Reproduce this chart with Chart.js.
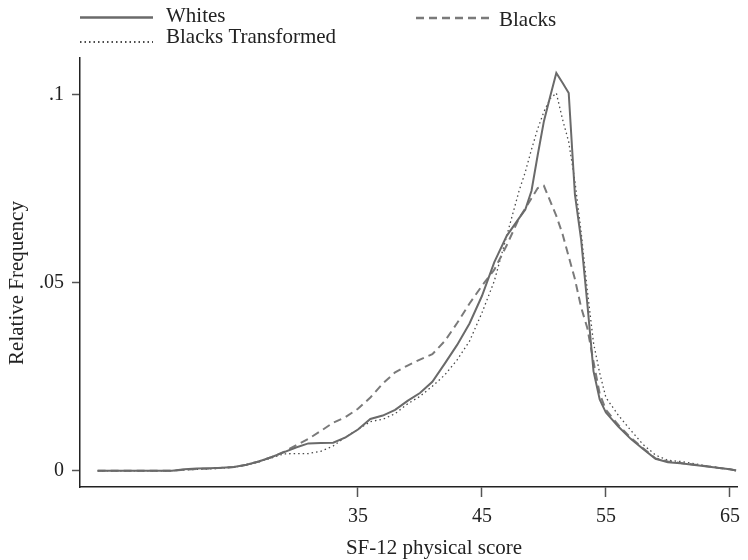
<!DOCTYPE html>
<html>
<head>
<meta charset="utf-8">
<script src="https://cdn.jsdelivr.net/npm/chart.js@4.4.1/dist/chart.umd.min.js"></script>
<style>
  body { margin: 0; background: #fff; }
  #wrap { width: 748px; height: 560px; position: relative; }
</style>
</head>
<body>
<div id="wrap"><canvas id="densityChart"></canvas></div>
<script>
// SF-12 physical score grid
const scores = [14, 20, 21, 22, 23, 24, 25, 26, 27, 28, 29, 30, 31, 32, 33, 34, 35, 36, 37, 38, 39, 40,
    41, 42, 43, 44, 45, 46, 47, 48, 48.5, 49, 49.5, 50, 50.5, 51, 51.5, 52, 52.5, 53, 53.5, 54, 54.5,
    55, 56, 57, 58, 59, 60, 61, 62, 63, 64, 65, 65.5];

const whites = [0, 0, 0.0004, 0.0006, 0.0007, 0.0008, 0.001, 0.0016, 0.0025, 0.0036, 0.0049, 0.0062,
    0.0073, 0.0074, 0.0075, 0.0089, 0.011, 0.0138, 0.0147, 0.0162, 0.0186, 0.0207, 0.0237, 0.0285,
    0.0335, 0.0392, 0.0465, 0.0555, 0.0625, 0.0672, 0.0695, 0.0745, 0.084, 0.093, 0.0995, 0.1058,
    0.1032, 0.1005, 0.0735, 0.0615, 0.0445, 0.0265, 0.019, 0.0155, 0.0118, 0.0085, 0.0058, 0.0032,
    0.0023, 0.002, 0.0016, 0.0012, 0.0008, 0.0004, 0.0001];

const blacks = [0, 0, 0.0003, 0.0005, 0.0006, 0.0008, 0.001, 0.0016, 0.0025, 0.0036, 0.005, 0.0068,
    0.0085, 0.0106, 0.0128, 0.0143, 0.0165, 0.0195, 0.0232, 0.0262, 0.028, 0.0296, 0.031, 0.0345,
    0.0393, 0.0445, 0.0492, 0.0535, 0.06, 0.0672, 0.0698, 0.0725, 0.0752, 0.0758, 0.0718, 0.0678,
    0.063, 0.057, 0.051, 0.0435, 0.038, 0.029, 0.0205, 0.0162, 0.0122, 0.0088, 0.006, 0.0033,
    0.0025, 0.0021, 0.0017, 0.0013, 0.0008, 0.0004, 0.0001];

const blacksTransformed = [0, 0, 0.0002, 0.0004, 0.0005, 0.0007, 0.001, 0.0015, 0.0024, 0.0034, 0.0045,
    0.0046, 0.0046, 0.0052, 0.0066, 0.009, 0.011, 0.0131, 0.0137, 0.0152, 0.0178, 0.0198, 0.0225,
    0.0255, 0.0295, 0.0345, 0.042, 0.0505, 0.0625, 0.0745, 0.0795, 0.0855, 0.091, 0.0955, 0.099,
    0.1005, 0.0935, 0.0875, 0.077, 0.0635, 0.048, 0.034, 0.026, 0.0195, 0.0148, 0.0108, 0.007,
    0.0042, 0.0028, 0.0025, 0.002, 0.0014, 0.0009, 0.0004, 0.0001];

const xTicks = [35, 45, 55, 65];
const yTicks = [0, 0.05, 0.1];

const serif = '"Liberation Serif", "DejaVu Serif", serif';
const textColor = '#222';

const toPoints = vals => scores.map((s, i) => ({ x: s, y: vals[i] }));

// legend and axis titles are placed by hand to match the original layout
const manualLabels = {
    id: 'manualLabels',
    afterDraw(chart) {
        const ctx = chart.ctx;
        const items = [
            { ds: 0, x1: 80, x2: 153, ly: 17.5, tx: 166, ty: 22, text: 'Whites' },
            { ds: 2, x1: 80, x2: 153, ly: 42, tx: 166, ty: 43, text: 'Blacks Transformed' },
            { ds: 1, x1: 416, x2: 490, ly: 18, tx: 499, ty: 26, text: 'Blacks' }
        ];
        ctx.save();
        ctx.font = '21px ' + serif;
        items.forEach(it => {
            const d = chart.data.datasets[it.ds];
            ctx.beginPath();
            ctx.setLineDash(d.borderDash || []);
            ctx.strokeStyle = d.borderColor;
            ctx.lineWidth = d.borderWidth + 0.5;
            ctx.moveTo(it.x1, it.ly);
            ctx.lineTo(it.x2, it.ly);
            ctx.stroke();
            ctx.setLineDash([]);
            ctx.fillStyle = textColor;
            ctx.textAlign = 'left';
            ctx.textBaseline = 'alphabetic';
            ctx.fillText(it.text, it.tx, it.ty);
        });

        // x title
        ctx.textAlign = 'center';
        ctx.textBaseline = 'alphabetic';
        ctx.fillText('SF-12 physical score', 434, 554);

        // y title
        ctx.translate(17, 283);
        ctx.rotate(-Math.PI / 2);
        ctx.textBaseline = 'middle';
        ctx.fillText('Relative Frequency', 0, 0);
        ctx.restore();
    }
};

const ctx = document.getElementById('densityChart').getContext('2d');
new Chart(ctx, {
    type: 'line',
    data: {
        datasets: [
            {
                label: 'Whites',
                data: toPoints(whites),
                borderColor: '#6a6a6a',
                borderWidth: 2,
                pointRadius: 0,
                tension: 0
            },
            {
                label: 'Blacks',
                data: toPoints(blacks),
                borderColor: '#7a7a7a',
                borderWidth: 2,
                borderDash: [8, 5],
                pointRadius: 0,
                tension: 0
            },
            {
                label: 'Blacks Transformed',
                data: toPoints(blacksTransformed),
                borderColor: '#4a4a4a',
                borderWidth: 1.3,
                borderDash: [1.5, 3],
                pointRadius: 0,
                tension: 0
            }
        ]
    },
    options: {
        responsive: true,
        maintainAspectRatio: false,
        animation: false,
        layout: {
            padding: { top: 58, right: 10, left: 0, bottom: 0 }
        },
        plugins: {
            legend: { display: false },
            tooltip: { enabled: false }
        },
        scales: {
            x: {
                type: 'linear',
                min: 12.58,
                max: 65.64,
                afterBuildTicks: scale => { scale.ticks = xTicks.map(v => ({ value: v })); },
                afterFit: scale => { scale.height = 73; },
                border: { display: true, color: '#222', width: 1.5 },
                grid: { drawOnChartArea: false, drawTicks: true, tickLength: 10, tickColor: '#555', tickWidth: 1.5 },
                ticks: {
                    color: textColor,
                    font: { family: serif, size: 20 },
                    padding: 8,
                    maxRotation: 0,
                    autoSkip: false
                }
            },
            y: {
                min: -0.0043,
                max: 0.1098,
                afterBuildTicks: scale => { scale.ticks = yTicks.map(v => ({ value: v })); },
                afterFit: scale => { scale.width = 80; },
                border: { display: true, color: '#222', width: 1.5 },
                grid: { drawOnChartArea: false, drawTicks: true, tickLength: 8, tickColor: '#555', tickWidth: 1.5 },
                ticks: {
                    color: textColor,
                    font: { family: serif, size: 20 },
                    padding: 8,
                    autoSkip: false,
                    callback: v => v === 0 ? '0' : String(+v.toFixed(3)).replace(/^0/, '')
                }
            }
        }
    },
    plugins: [manualLabels]
});
</script>
</body>
</html>
